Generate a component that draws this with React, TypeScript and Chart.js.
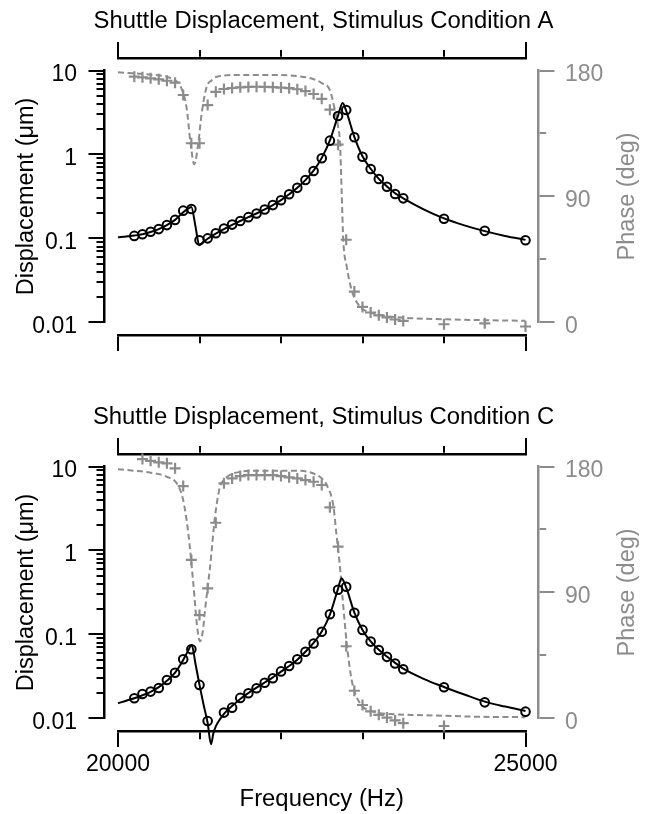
import React, { useEffect, useRef } from 'react';
import { Chart, registerables } from 'chart.js';

Chart.register(...registerables);

const GRAY = '#8c8c8c';
const BLACK = '#000000';
const FONT = '"Liberation Sans", Arial, Helvetica, sans-serif';

// ---------- shared categories / ticks ----------
const freqHz = [
  20200, 20300, 20400, 20500, 20600, 20700, 20800, 20900, 21000, 21100,
  21200, 21300, 21400, 21500, 21600, 21700, 21800, 21900, 22000, 22100,
  22200, 22300, 22400, 22500, 22600, 22700, 22800, 22900, 23000, 23100,
  23200, 23300, 23400, 23500, 24000, 24500, 25000,
];
const xTickValues = [20000, 21000, 22000, 23000, 24000, 25000];
const xTickLabels = ['20000', '', '', '', '', '25000'];
const yDecades = [0.01, 0.1, 1, 10];
const yDecadeLabels = ['0.01', '0.1', '1', '10'];
const yMinorMultipliers = [2, 3, 4, 5, 6, 7, 8, 9];
const phaseTickValues = [0, 45, 90, 135, 180];
const phaseTickLabels = ['0', '', '90', '', '180'];

const X_TITLE = 'Frequency (Hz)';
const Y_TITLE = 'Displacement (\u03bcm)';
const Y2_TITLE = 'Phase (deg)';

// ---------- Stimulus condition A ----------
const dispA = [
  0.107, 0.112, 0.120, 0.129, 0.144, 0.166, 0.214, 0.224, 0.095, 0.100,
  0.115, 0.131, 0.146, 0.161, 0.179, 0.198, 0.221, 0.249, 0.285, 0.335,
  0.400, 0.496, 0.635, 0.900, 1.46, 2.87, 3.38, 1.60, 0.94, 0.671,
  0.509, 0.413, 0.338, 0.300, 0.171, 0.123, 0.095,
];
const phaseA = [
  175.6, 175.1, 174.4, 173.7, 172.7, 171.3, 162.5, 128, 128, 155.3,
  164.8, 166.8, 167.5, 168, 168.3, 168.4, 168.3, 168.1, 167.8, 167.4,
  166.6, 165.3, 163.2, 159.8, 152, 127, 59, 22, 11, 7,
  5, 3.5, 2, 1, -1.4, -0.7, -3,
];
const fitFreqA = [
  20000, 20100, 20200, 20300, 20400, 20500, 20600, 20700, 20800, 20860,
  20900, 20950, 20997, 21030, 21100, 21200, 21300, 21400, 21500, 21600,
  21700, 21800, 21900, 22000, 22100, 22200, 22300, 22400, 22500, 22600,
  22700, 22757, 22800, 22900, 23000, 23100, 23200, 23300, 23400, 23500,
  23750, 24000, 24250, 24500, 24750, 25000,
];
const fitDispA = [
  0.103, 0.105, 0.108, 0.112, 0.119, 0.129, 0.144, 0.166, 0.205, 0.226,
  0.237, 0.14, 0.083, 0.088, 0.099, 0.114, 0.129, 0.145, 0.161, 0.179,
  0.198, 0.221, 0.249, 0.285, 0.335, 0.400, 0.495, 0.64, 0.91, 1.47,
  2.9, 4.1, 3.3, 1.62, 0.95, 0.675, 0.512, 0.415, 0.345, 0.300,
  0.222, 0.173, 0.143, 0.122, 0.107, 0.096,
];
const phaseFitFreqA = [
  20000, 20200, 20400, 20600, 20700, 20760, 20840, 20890, 20936, 20985,
  21026, 21088, 21150, 21211, 21500, 22000, 22200, 22400, 22500, 22600,
  22660, 22700, 22724, 22745, 22764, 22806, 22867, 22969, 23100, 23215,
  23400, 23623, 24033, 24500, 25000,
];
const phaseFitA = [
  178.7, 178, 177, 175.6, 173, 169.6, 154, 128, 113, 128,
  149, 168.4, 173, 175.6, 176.8, 176.8, 176, 173.8, 171, 166,
  152, 140, 128, 92, 59, 40, 23, 11.2, 7, 5.2,
  3.7, 2.9, 2.1, 1.5, 1.1,
];

// ---------- Stimulus condition C ----------
const dispC = [
  0.0173, 0.0195, 0.0208, 0.0230, 0.0286, 0.0349, 0.0505, 0.0664, 0.025, 0.0093,
  0.0083, 0.0117, 0.0134, 0.0175, 0.0199, 0.0228, 0.0265, 0.030, 0.0362, 0.042,
  0.0505, 0.062, 0.078, 0.1076, 0.174, 0.34, 0.37, 0.181, 0.113, 0.082,
  0.065, 0.054, 0.045, 0.0384, 0.0234, 0.0155, 0.012,
];
const phaseC = [
  186.6, 185.3, 184.1, 183, 182.3, 178.7, 166, 113.2, 73.8, 92.9,
  139.8, 168, 171.5, 173.2, 173.9, 173.9, 173.9, 173.9, 173.2, 172.3,
  171.5, 170.3, 169.1, 166.8, 150.8, 122.7, 51.5, 19.7, 9.5, 5,
  2.5, 0.5, -1.5, -3.5, -5.5, -6, -8.4,
];
const fitFreqC = [
  20000, 20100, 20200, 20300, 20400, 20500, 20600, 20700, 20800, 20860,
  20904, 20950, 21000, 21050, 21100, 21141, 21170, 21200, 21250, 21300,
  21400, 21500, 21600, 21700, 21800, 21900, 22000, 22100, 22200, 22300,
  22400, 22500, 22600, 22700, 22742, 22800, 22900, 23000, 23100, 23200,
  23300, 23400, 23500, 23750, 24000, 24250, 24500, 24750, 25000,
];
const fitDispC = [
  0.0151, 0.0162, 0.0173, 0.0188, 0.0207, 0.0235, 0.0280, 0.0350, 0.0495, 0.064,
  0.0746, 0.045, 0.025, 0.0145, 0.0088, 0.0049, 0.0066, 0.0080, 0.0097, 0.0113,
  0.0140, 0.0170, 0.0200, 0.0232, 0.0267, 0.0308, 0.036, 0.042, 0.050, 0.062,
  0.079, 0.108, 0.172, 0.35, 0.466, 0.36, 0.182, 0.113, 0.0825, 0.0655,
  0.0545, 0.0458, 0.039, 0.0295, 0.0236, 0.0192, 0.0158, 0.0138, 0.0122,
];
const phaseFitFreqC = [
  20000, 20200, 20400, 20600, 20720, 20800, 20863, 20924, 20970, 21006,
  21040, 21067, 21129, 21190, 21251, 21300, 21374, 21500, 21620, 22200,
  22400, 22500, 22561, 22642, 22683, 22724, 22757, 22806, 22867, 22969,
  23100, 23215, 23400, 23623, 24000, 24442, 25000,
];
const phaseFitC = [
  178, 177, 175.6, 172.7, 168, 156, 132, 96.5, 66, 55,
  62, 77, 108, 144, 165.5, 170.5, 174, 176.2, 177, 177,
  175, 171.5, 166.8, 152, 130, 108, 85, 54, 27.4, 10.7,
  5.5, 3.6, 2.9, 2.4, 1.8, 1.1, 0.8,
];

// ---------- helpers ----------
type Panel = {
  title: string;
  disp: number[];
  phase: number[];
  fitFreq: number[];
  fitDisp: number[];
  phaseFitFreq: number[];
  phaseFit: number[];
};

const panelA: Panel = {
  title: 'Shuttle Displacement, Stimulus Condition A',
  disp: dispA, phase: phaseA, fitFreq: fitFreqA, fitDisp: fitDispA,
  phaseFitFreq: phaseFitFreqA, phaseFit: phaseFitA,
};
const panelC: Panel = {
  title: 'Shuttle Displacement, Stimulus Condition C',
  disp: dispC, phase: phaseC, fitFreq: fitFreqC, fitDisp: fitDispC,
  phaseFitFreq: phaseFitFreqC, phaseFit: phaseFitC,
};

const pts = (xs: number[], ys: number[]) => xs.map((x, i) => ({ x, y: ys[i] }));

const yTickValues: number[] = (() => {
  const out: number[] = [];
  for (let d = 0; d < yDecades.length; d++) {
    out.push(yDecades[d]);
    if (d < yDecades.length - 1) {
      for (const m of yMinorMultipliers) out.push(Number((yDecades[d] * m).toPrecision(3)));
    }
  }
  return out;
})();

const isDecade = (v: number) => yDecades.some((d) => Math.abs(d - v) < d * 1e-6);
const isXMajor = (v: number) => v === xTickValues[0] || v === xTickValues[xTickValues.length - 1];
const isPhaseMajor = (v: number) => v % 90 === 0;

const TICK_LEN = 16;
const MINOR = 6.75;
const AXW = 2.5;

// dash for ticks drawn from outer end toward the axis line (top / left axes)
const outerToInner = (major: boolean) => (major ? [] : [MINOR, TICK_LEN - AXW / 2 - MINOR]);
const outerToInnerOffset = (major: boolean) => (major ? 0 : MINOR);
// dash for ticks drawn from axis line outward (bottom / right axes)
const innerToOuter = (major: boolean) => (major ? [] : [MINOR, 100]);

const tickFont = { family: FONT, size: 23, weight: 'normal' as const, lineHeight: 1.2 };
const titleFont = { family: FONT, size: 23.5, weight: 'normal' as const, lineHeight: 1.2 };
const headFont = { family: FONT, size: 23.85, weight: 'normal' as const, lineHeight: 1.2 };

// Right-axis title drawn reading upwards (like the left one)
const rightTitlePlugin = {
  id: 'rightAxisTitle',
  afterDraw(chart: any) {
    const s = chart.scales.y2;
    if (!s) return;
    const ctx = chart.ctx as CanvasRenderingContext2D;
    ctx.save();
    ctx.translate(628, (s.top + s.bottom) / 2);
    ctx.rotate(-Math.PI / 2);
    ctx.font = `normal ${titleFont.size}px ${FONT}`;
    ctx.fillStyle = GRAY;
    ctx.textAlign = 'center';
    ctx.textBaseline = 'middle';
    ctx.fillText(Y2_TITLE, 0, 0);
    ctx.restore();
  },
};

function spacer(position: string, size: number) {
  const horizontal = position === 'top' || position === 'bottom';
  return {
    type: 'linear',
    position,
    weight: 0,
    display: true,
    grid: { display: false },
    ticks: { display: false },
    border: { display: false },
    afterFit: (s: any) => {
      if (horizontal) s.height = size;
      else s.width = size;
    },
  };
}

function makeConfig(p: Panel, showXLabels: boolean, canvasH: number) {
  const bottomAxisH = canvasH - 335;
  return {
    type: 'line',
    data: {
      datasets: [
        {
          label: 'Displacement data',
          data: pts(freqHz, p.disp),
          xAxisID: 'x',
          yAxisID: 'y',
          showLine: false,
          pointStyle: 'circle',
          pointRadius: 4.3,
          pointBorderWidth: 2,
          pointBorderColor: BLACK,
          pointBackgroundColor: 'rgba(0,0,0,0)',
          clip: false,
        },
        {
          label: 'Displacement fit',
          data: pts(p.fitFreq, p.fitDisp),
          xAxisID: 'x',
          yAxisID: 'y',
          borderColor: BLACK,
          borderWidth: 2,
          pointRadius: 0,
          cubicInterpolationMode: 'monotone',
          fill: false,
          clip: false,
        },
        {
          label: 'Phase data',
          data: pts(freqHz, p.phase),
          xAxisID: 'x',
          yAxisID: 'y2',
          showLine: false,
          pointStyle: 'cross',
          pointRadius: 5.5,
          pointBorderWidth: 2.2,
          pointBorderColor: GRAY,
          pointBackgroundColor: GRAY,
          clip: false,
        },
        {
          label: 'Phase fit',
          data: pts(p.phaseFitFreq, p.phaseFit),
          xAxisID: 'x',
          yAxisID: 'y2',
          borderColor: GRAY,
          borderWidth: 2,
          borderDash: [6, 3.5],
          pointRadius: 0,
          cubicInterpolationMode: 'monotone',
          fill: false,
          clip: false,
        },
      ],
    },
    options: {
      responsive: false,
      animation: false,
      events: [],
      layout: { padding: 0 },
      plugins: {
        legend: { display: false },
        tooltip: { enabled: false },
        title: {
          display: true,
          text: p.title,
          color: BLACK,
          font: headFont,
          padding: { top: 7.2, bottom: 4.2 },
        },
      },
      scales: {
        x: {
          type: 'linear',
          position: 'bottom',
          weight: 1,
          min: xTickValues[0],
          max: xTickValues[xTickValues.length - 1],
          afterBuildTicks: (s: any) => {
            s.ticks = xTickValues.map((v) => ({ value: v }));
          },
          afterFit: (s: any) => {
            s.height = bottomAxisH;
          },
          ticks: {
            autoSkip: false,
            maxRotation: 0,
            padding: 3.7,
            color: BLACK,
            font: tickFont,
            callback: (v: number) => {
              if (!showXLabels) return '';
              const i = xTickValues.indexOf(v);
              return i >= 0 ? xTickLabels[i] : '';
            },
          },
          grid: {
            display: true,
            drawOnChartArea: false,
            drawTicks: true,
            tickLength: TICK_LEN,
            color: BLACK,
            tickColor: BLACK,
            lineWidth: 2,
            tickWidth: 2,
            tickBorderDash: (c: any) => innerToOuter(isXMajor(c.tick.value)),
            tickBorderDashOffset: 0,
          },
          border: { display: true, color: BLACK, width: AXW },
          title: {
            display: showXLabels,
            text: X_TITLE,
            color: BLACK,
            font: headFont,
            padding: { top: 0, bottom: 0.2 },
          },
        },
        sB: spacer('bottom', 12.7),
        x2: {
          type: 'linear',
          position: 'top',
          weight: 1,
          min: xTickValues[0],
          max: xTickValues[xTickValues.length - 1],
          afterBuildTicks: (s: any) => {
            s.ticks = xTickValues.map((v) => ({ value: v }));
          },
          afterFit: (s: any) => {
            s.height = 18;
          },
          ticks: { display: false, autoSkip: false },
          grid: {
            display: true,
            drawOnChartArea: false,
            drawTicks: true,
            tickLength: TICK_LEN,
            color: BLACK,
            tickColor: BLACK,
            lineWidth: 2,
            tickWidth: 2,
            tickBorderDash: (c: any) => outerToInner(isXMajor(c.tick.value)),
            tickBorderDashOffset: (c: any) => outerToInnerOffset(isXMajor(c.tick.value)),
          },
          border: { display: true, color: BLACK, width: AXW },
        },
        sT: spacer('top', 12.5),
        y: {
          type: 'logarithmic',
          position: 'left',
          weight: 1,
          min: yDecades[0],
          max: yDecades[yDecades.length - 1],
          afterBuildTicks: (s: any) => {
            s.ticks = yTickValues.map((v) => ({ value: v, major: isDecade(v) }));
          },
          afterFit: (s: any) => {
            s.width = 104.5;
          },
          ticks: {
            autoSkip: false,
            padding: 11.5,
            labelOffset: 4,
            color: BLACK,
            font: tickFont,
            callback: (v: number) => {
              const i = yDecades.findIndex((d) => Math.abs(d - v) < d * 1e-6);
              return i >= 0 ? yDecadeLabels[i] : '';
            },
          },
          grid: {
            display: true,
            drawOnChartArea: false,
            drawTicks: true,
            tickLength: TICK_LEN,
            color: BLACK,
            tickColor: BLACK,
            lineWidth: 2,
            tickWidth: 2,
            tickBorderDash: (c: any) => outerToInner(isDecade(c.tick.value)),
            tickBorderDashOffset: (c: any) => outerToInnerOffset(isDecade(c.tick.value)),
          },
          border: { display: true, color: BLACK, width: AXW },
          title: {
            display: true,
            text: Y_TITLE,
            color: BLACK,
            font: titleFont,
            padding: { top: 12.4, bottom: 0 },
          },
        },
        sL: spacer('left', 13.5),
        y2: {
          type: 'linear',
          position: 'right',
          weight: 1,
          min: phaseTickValues[0],
          max: phaseTickValues[phaseTickValues.length - 1],
          afterBuildTicks: (s: any) => {
            s.ticks = phaseTickValues.map((v) => ({ value: v }));
          },
          afterFit: (s: any) => {
            s.width = 108.5;
          },
          ticks: {
            autoSkip: false,
            padding: 10.5,
            labelOffset: 4,
            color: GRAY,
            font: tickFont,
            callback: (v: number) => {
              const i = phaseTickValues.indexOf(v);
              return i >= 0 ? phaseTickLabels[i] : '';
            },
          },
          grid: {
            display: true,
            drawOnChartArea: false,
            drawTicks: true,
            tickLength: TICK_LEN,
            color: GRAY,
            tickColor: GRAY,
            lineWidth: 2,
            tickWidth: 2,
            tickBorderDash: (c: any) => innerToOuter(isPhaseMajor(c.tick.value)),
            tickBorderDashOffset: 0,
          },
          border: { display: true, color: GRAY, width: AXW },
          title: { display: false, text: Y2_TITLE },
        },
        sR: spacer('right', 13),
      },
    },
    plugins: [rightTitlePlugin],
  };
}

export default function App() {
  const topRef = useRef<HTMLCanvasElement>(null);
  const botRef = useRef<HTMLCanvasElement>(null);

  useEffect(() => {
    const c1 = new Chart(topRef.current as HTMLCanvasElement, makeConfig(panelA, false, 396) as any);
    const c2 = new Chart(botRef.current as HTMLCanvasElement, makeConfig(panelC, true, 418) as any);
    return () => {
      c1.destroy();
      c2.destroy();
    };
  }, []);

  return (
    <div style={{ position: 'absolute', left: 0, top: 0, width: 647, height: 814, background: '#ffffff' }}>
      <canvas
        ref={topRef}
        width={647}
        height={396}
        style={{ position: 'absolute', left: 0, top: 0, width: 647, height: 396, display: 'block' }}
      />
      <canvas
        ref={botRef}
        width={647}
        height={418}
        style={{ position: 'absolute', left: 0, top: 396, width: 647, height: 418, display: 'block' }}
      />
    </div>
  );
}
